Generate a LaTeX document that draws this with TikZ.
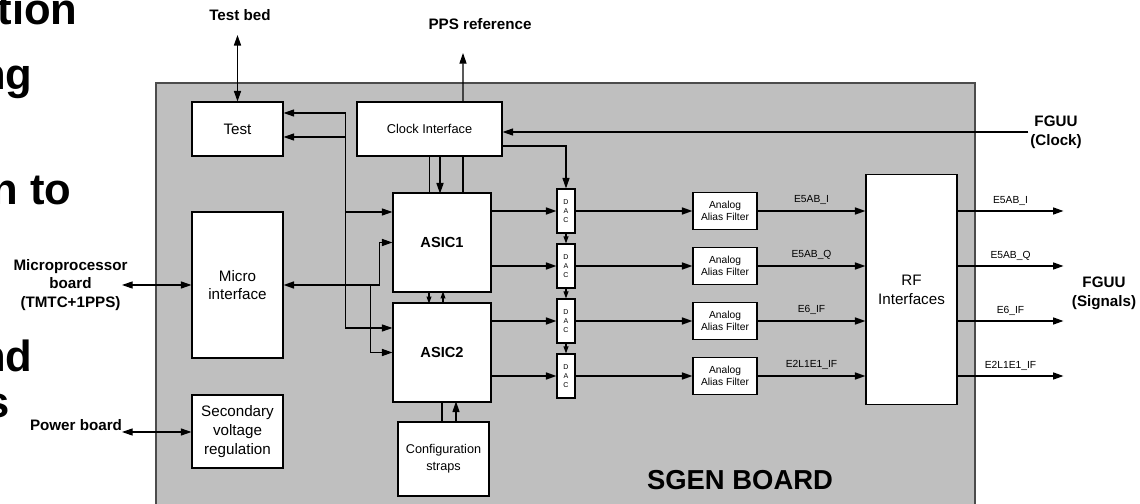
\documentclass[tikz,border=0pt]{standalone}
\usepackage{fontspec}
\setmainfont{Liberation Sans}
\usetikzlibrary{arrows.meta,calc}

\begin{document}
\begin{tikzpicture}[x=0.025cm,y=-0.025cm,line width=0.75pt,
        >={Triangle[length=7.5pt,width=5pt]},
        blk/.style={draw,fill=white,align=center,inner sep=0pt,font=\fontsize{10.8}{13.4}\selectfont},
        dac/.style={draw,fill=white,align=center,inner sep=0pt,minimum width=0.45cm,minimum height=1.1cm,font=\fontsize{5}{6.6}\selectfont},
        aaf/.style={draw,fill=white,align=center,inner sep=0pt,minimum width=1.6cm,minimum height=0.925cm,font=\fontsize{7.3}{8.2}\selectfont},
        ext/.style={align=center,inner sep=1pt,font=\fontsize{10.8}{13.3}\selectfont\bfseries},
        sname/.style={font=\fontsize{7.3}{8}\selectfont,inner sep=1pt},
        slide/.style={anchor=base east,inner sep=0pt,font=\fontsize{31}{31}\selectfont\bfseries},
        bus/.style={line width=1.1pt},
        small/.style={>={Triangle[length=5pt,width=3.5pt]}}]
    \useasboundingbox (0,0) rectangle (1140,504);

    % slide text behind the figure
    \node[slide] (sl1) at (78,25) {tion};
    \node[slide] (sl2) at (33,90) {ng};
    \node[slide] (sl3) at (72,205) {n to};
    \node[slide] (sl4) at (33,372) {nd};
    \node[slide] (sl5) at (10,418) {s};

    % board
    \filldraw[fill=black!25,draw=black!70] (156,83) rectangle (975,515);
    \node[font=\fontsize{19.5}{22}\selectfont\bfseries] (sgen) at (740,480) {SGEN BOARD};

    % blocks
    \node[blk,minimum width=2.275cm,minimum height=1.35cm] (test) at (237.5,129) {Test};
    \node[blk,minimum width=3.625cm,minimum height=1.35cm,font=\fontsize{9.1}{11}\selectfont] (clk) at (429.5,129) {Clock Interface};
    \node[blk,minimum width=2.275cm,minimum height=3.65cm] (micro) at (237.5,285) {Micro\\interface};
    \node[blk,minimum width=2.275cm,minimum height=1.825cm] (svr) at (237.5,431.5) {Secondary\\voltage\\regulation};
    \node[blk,minimum width=2.45cm,minimum height=2.475cm,font=\fontsize{10.4}{12}\selectfont\bfseries] (asic1) at (442,242.5) {ASIC1};
    \node[blk,minimum width=2.45cm,minimum height=2.475cm,font=\fontsize{10.4}{12}\selectfont\bfseries] (asic2) at (442,352.5) {ASIC2};
    \node[blk,minimum width=2.275cm,minimum height=1.85cm,font=\fontsize{9}{12}\selectfont] (cfg) at (443.5,459) {Configuration\\straps};
    \node[blk,minimum width=2.275cm,minimum height=5.725cm] (rf) at (911.5,289.5) {RF\\Interfaces};
    \foreach \i/\y in {1/211,2/266,3/321,4/376}{
        \node[dac] (dac\i) at (566,\y) {D\\A\\C};
        \node[aaf] (aaf\i) at (725,\y) {Analog\\Alias Filter};
    }

    % outside labels
    \node[ext] (tbed) at (240,15) {Test bed};
    \node[ext] (pps) at (480,24) {PPS reference};
    \node[ext] (mpb) at (70.5,285) {Microprocessor\\board\\(TMTC+1PPS)};
    \node[ext] (pwr) at (76,425) {Power board};
    \node[ext] (fclk) at (1056,132) {FGUU\\(Clock)};
    \node[ext] (fsig) at (1104,293) {FGUU\\(Signals)};
    \coordinate (tbedend) at (237.5,35);
    \coordinate (ppsend) at (463,53);
    \coordinate (mpbend) at (122,285);
    \coordinate (pwrend) at (122,432);

    % external links
    \draw[bus,<->] (tbedend) -- (test.north);
    \draw[->] (clk.north) ++(33.5,0) -- (ppsend);
    \draw[<->] (mpbend) -- (micro.west);
    \draw[<->] (pwrend) -- (pwrend -| svr.west);
    \draw[->] (fclk.west) -- (fclk.west -| clk.east);

    % test and micro buses
    \draw[<->] ($(test.east)+(0,-16)$) -| ($(asic1.west)+(-47,-30.5)$) -- ($(asic1.west)+(0,-30.5)$);
    \draw[<->] ($(test.east)+(0,8)$) -| ($(asic2.west)+(-47,-24.5)$) -- ($(asic2.west)+(0,-24.5)$);
    \draw[bus,<->] (micro.east) -- ++(96,0) |- (asic1.west);
    \draw[bus,->] ($(micro.east)+(87,0)$) |- (asic2.west);

    % clock, asics, straps
    \draw (clk.south) -- (clk.south |- asic1.north);
    \draw[bus,->] (clk.south) ++(10.5,0) -- ++(0,37);
    \draw (clk.south) ++(33.5,0) -- ++(0,37);
    \draw[small,->] (asic1.south) ++(-13,0) -- ++(0,11);
    \draw[small,->] (asic2.north) ++(1,0) -- ++(0,-11);
    \draw (cfg.north) ++(-1.5,0) -- ++(0,-20);
    \draw[->] (cfg.north) ++(12.5,0) -- ++(0,-20);
    \draw[->] (clk.east) ++(0,17) -| (dac1.north);
    \foreach \a/\b in {1/2,2/3,3/4}
        \draw[small,->] (dac\a.south) -- (dac\b.north);

    % signal chain
    \foreach \i/\a/\s in {1/asic1/E5AB\_I,2/asic1/E5AB\_Q,3/asic2/E6\_IF,4/asic2/E2L1E1\_IF}{
        \draw[bus,->] (dac\i.west -| \a.east) -- (dac\i.west);
        \draw[bus,->] (dac\i.east) -- (aaf\i.west);
        \draw[bus,->] (aaf\i.east) -- (aaf\i.east -| rf.west) node[sname,midway,above=3pt] {\s};
        \draw[bus,->] (rf.east |- dac\i) -- ++(106,0) node[sname,midway,above=2pt] {\s};
    }
\end{tikzpicture}
\end{document}
